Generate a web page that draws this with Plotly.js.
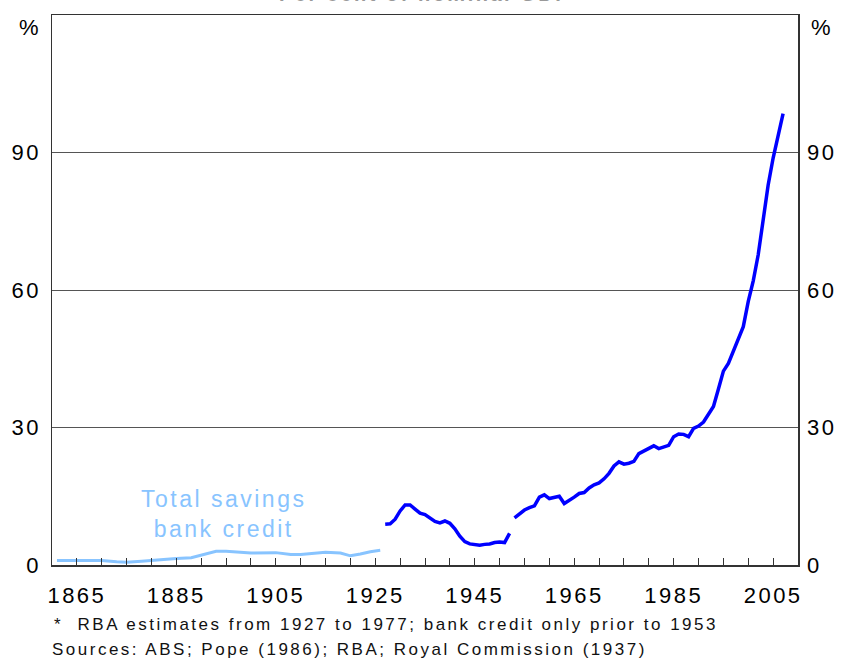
<!DOCTYPE html>
<html>
<head>
<meta charset="utf-8">
<script src="https://cdn.plot.ly/plotly-3.0.1.min.js"></script>
<style>html,body{margin:0;padding:0;background:#fff;}#chart{width:842px;height:660px;} text{letter-spacing:2.5px;}</style>
</head>
<body>
<div id="chart"></div>
<script>
// Total savings bank credit (light blue), per cent of nominal GDP
const savingsYears = [1861,1865,1870,1873,1875,1878,1880,1885,1888,1890,1893,1895,1898,1900,1905,1908,1910,1913,1915,1918,1920,1922,1924,1926];
const savingsValues = [1.0,1.0,1.0,0.7,0.6,0.8,1.0,1.4,1.6,2.1,3.0,3.0,2.7,2.6,2.7,2.3,2.3,2.6,2.8,2.6,2.0,2.4,2.9,3.2];

// Household credit, RBA estimates / bank credit (dark blue), segment 1: 1927-1952
const hhYears1 = [1927,1928,1929,1930,1931,1932,1933,1934,1935,1936,1937,1938,1939,1940,1941,1942,1943,1944,1945,1946,1947,1948,1949,1950,1951,1952];
const hhValues1 = [8.9,9.0,10.0,11.8,13.1,13.1,12.2,11.3,11.0,10.3,9.5,9.2,9.6,9.1,7.9,6.3,5.1,4.6,4.4,4.3,4.5,4.6,4.9,5.0,4.9,6.9];

// segment 2: 1953-2007
const hhYears2 = [1953,1954,1955,1956,1957,1958,1959,1960,1961,1962,1963,1964,1965,1966,1967,1968,1969,1970,1971,1972,1973,1974,1975,1976,1977,1978,1979,1980,1981,1982,1983,1984,1985,1986,1987,1988,1989,1990,1991,1992,1993,1994,1995,1996,1997,1998,1999,2000,2001,2002,2003,2004,2005,2006,2007];
const hhValues2 = [10.3,11.2,12.0,12.5,12.9,14.8,15.3,14.5,14.7,15.0,13.4,14.0,14.8,15.6,15.8,16.8,17.5,17.9,18.8,20.0,21.6,22.5,22.0,22.2,22.6,24.3,24.8,25.4,26.0,25.4,25.8,26.1,28.0,28.6,28.5,28.0,29.8,30.3,31.2,32.8,34.6,38.4,42.3,44.0,46.6,49.2,52.0,57.5,62.0,67.7,75.5,82.9,88.8,93.3,98.5];

const xTickVals = [1865,1885,1905,1925,1945,1965,1985,2005];
const yTickVals = [0,30,60,90];

const FONT = 'Arial, "Liberation Sans", sans-serif';
const DARK = '#0000ff';
const LIGHT = '#88c4ff';

const traces = [
  {x: savingsYears, y: savingsValues, mode: 'lines', line: {color: LIGHT, width: 3}, hoverinfo: 'skip'},
  {x: hhYears1, y: hhValues1, mode: 'lines', line: {color: DARK, width: 3.5}, hoverinfo: 'skip'},
  {x: hhYears2, y: hhValues2, mode: 'lines', line: {color: DARK, width: 3.5}, hoverinfo: 'skip'},
  {x: [hhYears2[0]], y: [hhValues2[0]], yaxis: 'y2', mode: 'markers', marker: {opacity: 0}, hoverinfo: 'skip'}
];

const tickFont = {family: FONT, size: 22, color: '#000'};

const layout = {
  width: 842, height: 660,
  margin: {l: 52, r: 44, t: 15, b: 95},
  paper_bgcolor: '#fff', plot_bgcolor: '#fff',
  showlegend: false,
  font: {family: FONT, color: '#000', size: 20},
  xaxis: {
    range: [1860, 2010],
    tickmode: 'array', tickvals: xTickVals, ticktext: xTickVals.map(String),
    ticks: 'inside', ticklen: 7, tickcolor: '#333', tickwidth: 1,
    minor: {tickmode: 'linear', tick0: 1860, dtick: 5, ticks: 'inside', ticklen: 7, tickcolor: '#333', tickwidth: 1, showgrid: false},
    showgrid: false, zeroline: false,
    showline: true, linecolor: '#333', linewidth: 1.5, mirror: true,
    ticklabelstandoff: 10,
    tickfont: tickFont
  },
  yaxis: {
    range: [0, 120],
    tickmode: 'array', tickvals: yTickVals, ticktext: yTickVals.map(String),
    ticks: '', showgrid: true, gridcolor: '#555', gridwidth: 1,
    zeroline: false, showline: true, linecolor: '#333', linewidth: 1.5, mirror: true,
    ticklabelstandoff: 5,
    tickfont: tickFont
  },
  yaxis2: {
    range: [0, 120], overlaying: 'y', side: 'right',
    tickmode: 'array', tickvals: yTickVals, ticktext: yTickVals.map(String),
    ticks: '', showgrid: false, zeroline: false, showline: false,
    ticklabelstandoff: 8,
    tickfont: tickFont
  },
  annotations: [
    {text: '<b>Per cent of nominal GDP</b>', xref: 'paper', yref: 'paper', x: 0.5, y: 1, xanchor: 'center', yanchor: 'bottom', yshift: 8, showarrow: false, font: {family: FONT, size: 20, color: '#999'}},
    {text: '%', xref: 'paper', yref: 'paper', x: 0, y: 1, xanchor: 'center', yanchor: 'middle', xshift: -22, yshift: -12, showarrow: false, font: {family: FONT, size: 22, color: '#000'}},
    {text: '%', xref: 'paper', yref: 'paper', x: 1, y: 1, xanchor: 'center', yanchor: 'middle', xshift: 24, yshift: -12, showarrow: false, font: {family: FONT, size: 22, color: '#000'}},
    {text: 'Total savings<br>bank credit', xref: 'x', yref: 'y', x: 1894.5, y: 11.2, xanchor: 'center', yanchor: 'middle', showarrow: false, align: 'center', font: {family: FONT, size: 23, color: LIGHT}},
    {text: '*  RBA estimates from 1927 to 1977; bank credit only prior to 1953', xref: 'paper', yref: 'paper', x: 0, y: 0, xanchor: 'left', yanchor: 'middle', align: 'left', xshift: 1, yshift: -59, borderpad: 0, showarrow: false, font: {family: FONT, size: 17, color: '#111'}},
    {text: 'Sources: ABS; Pope (1986); RBA; Royal Commission (1937)', xref: 'paper', yref: 'paper', x: 0, y: 0, xanchor: 'left', yanchor: 'middle', align: 'left', xshift: -1, yshift: -84, borderpad: 0, showarrow: false, font: {family: FONT, size: 17, color: '#111'}}
  ]
};

Plotly.newPlot('chart', traces, layout, {staticPlot: true, displayModeBar: false});
</script>
</body>
</html>
